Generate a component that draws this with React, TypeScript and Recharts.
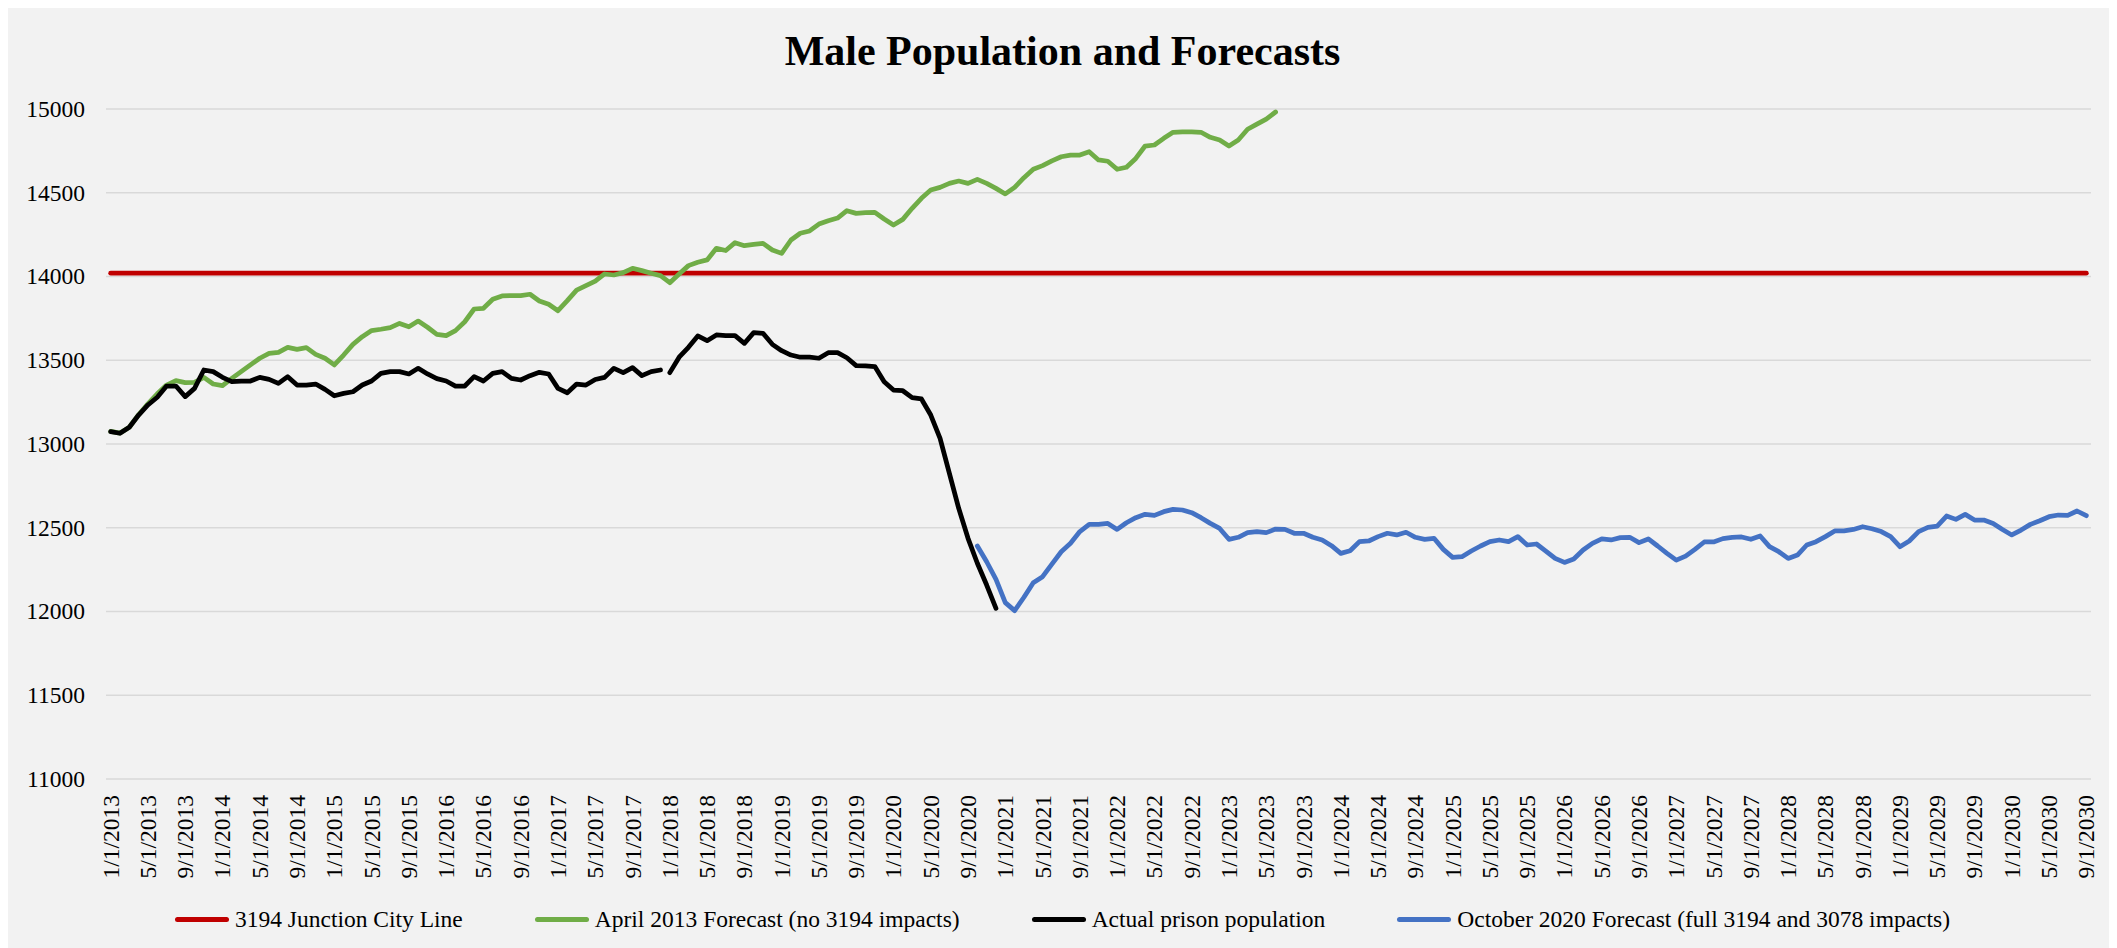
import React from 'react';
import { LineChart, Line, XAxis, YAxis, CartesianGrid } from 'recharts';

// Monthly categories 1/1/2013 .. 9/1/2030
const START_YEAR = 2013;
const MONTH_COUNT = 213;
const months: string[] = Array.from(
  { length: MONTH_COUNT },
  (_, i) => `${(i % 12) + 1}/1/${START_YEAR + Math.floor(i / 12)}`
);

const yTicks = [11000, 11500, 12000, 12500, 13000, 13500, 14000, 14500, 15000];

// 3194 Junction City Line (flat)
const junctionCityLine = 14020;

// April 2013 Forecast, 1/1/2013 .. 6/1/2023
const april2013Forecast = [
  13075, 13065, 13100, 13175, 13240, 13300, 13352, 13378, 13366, 13368,
  13398, 13358, 13348, 13392, 13432, 13472, 13512, 13541, 13547, 13577,
  13565, 13575, 13535, 13512, 13472, 13531, 13595, 13641, 13677, 13685,
  13695, 13720, 13700, 13734, 13697, 13655, 13647, 13677, 13730, 13806,
  13810, 13864, 13884, 13886, 13886, 13894, 13854, 13834, 13796, 13856,
  13919, 13945, 13972, 14015, 14009, 14023, 14049, 14035, 14019, 14005,
  13963, 14015, 14065, 14085, 14099, 14168, 14155, 14202, 14184, 14192,
  14198, 14158, 14138, 14218, 14258, 14272, 14313, 14333, 14349, 14393,
  14377, 14381, 14383, 14343, 14307, 14341, 14407, 14467, 14516, 14532,
  14556, 14570, 14556, 14580, 14556, 14526, 14493, 14532, 14590, 14640,
  14662, 14690, 14715, 14725, 14725, 14745, 14696, 14688, 14640, 14652,
  14705, 14779, 14785, 14825, 14861, 14863, 14863, 14861, 14831, 14815,
  14779, 14815, 14879, 14910, 14940, 14982,
];

// Actual prison population, 1/1/2013 .. 12/1/2017
const actualPopulation = [
  13074, 13064, 13100, 13173, 13233, 13279, 13346, 13346, 13283, 13332,
  13442, 13432, 13398, 13372, 13376, 13376, 13398, 13386, 13362, 13402,
  13352, 13352, 13358, 13326, 13288, 13302, 13312, 13352, 13376, 13422,
  13432, 13432, 13418, 13452, 13418, 13390, 13376, 13346, 13346, 13402,
  13376, 13422, 13432, 13392, 13382, 13408, 13428, 13418, 13332, 13306,
  13358, 13352, 13385, 13398, 13452, 13426, 13456, 13408, 13432, 13442,
];

// Actual prison population, 1/1/2018 .. 12/1/2020
const actualPopulation2018 = [
  13426, 13518, 13577, 13645, 13617, 13651, 13647, 13647, 13601, 13665,
  13661, 13595, 13557, 13531, 13518, 13518, 13512, 13545, 13545, 13515,
  13468, 13466, 13462, 13372, 13322, 13318, 13277, 13269, 13173, 13034,
  12825, 12616, 12437, 12288, 12158, 12019,
];

// October 2020 Forecast, 10/1/2020 .. 9/1/2030
const october2020Forecast = [
  12391, 12297, 12192, 12053, 12005, 12085, 12172, 12208, 12283, 12357,
  12407, 12477, 12520, 12520, 12526, 12490, 12530, 12560, 12580, 12574,
  12596, 12610, 12606, 12590, 12560, 12526, 12496, 12431, 12443, 12471,
  12477, 12471, 12492, 12490, 12467, 12467, 12443, 12427, 12393, 12347,
  12363, 12417, 12421, 12447, 12467, 12457, 12473, 12443, 12431, 12437,
  12371, 12323, 12327, 12361, 12391, 12417, 12427, 12417, 12447, 12397,
  12403, 12361, 12317, 12293, 12313, 12367, 12407, 12433, 12427, 12441,
  12443, 12411, 12433, 12391, 12347, 12307, 12331, 12371, 12415, 12415,
  12435, 12443, 12445, 12431, 12451, 12387, 12357, 12317, 12337, 12397,
  12417, 12447, 12481, 12481, 12490, 12506, 12494, 12477, 12447, 12387,
  12421, 12477, 12502, 12510, 12570, 12550, 12580, 12546, 12546, 12526,
  12490, 12457, 12486, 12520, 12542, 12566, 12576, 12574, 12600, 12572,
];

const ACTUAL2018_START = 60;
const OCT2020_START = 93;

const data = months.map((month, i) => ({
  month,
  junction: junctionCityLine,
  april: i < april2013Forecast.length ? april2013Forecast[i] : null,
  actual: i < actualPopulation.length ? actualPopulation[i] : null,
  actual2018:
    i >= ACTUAL2018_START && i - ACTUAL2018_START < actualPopulation2018.length
      ? actualPopulation2018[i - ACTUAL2018_START]
      : null,
  october: i >= OCT2020_START ? october2020Forecast[i - OCT2020_START] : null,
}));

const legendItems = [
  { name: '3194 Junction City Line', color: '#C00000' },
  { name: 'April 2013 Forecast (no 3194 impacts)', color: '#70AD47' },
  { name: 'Actual prison population', color: '#000000' },
  { name: 'October 2020 Forecast (full 3194 and 3078 impacts)', color: '#4472C4' },
];

const FONT = '"Liberation Serif", "Times New Roman", serif';
const FONT_SIZE = 23.5;
const LINE_W = 4.75;

const DateTick = ({ x, y, payload }: any) => (
  <text
    x={x}
    y={y}
    transform={`rotate(-90, ${x}, ${y})`}
    textAnchor="end"
    dy="0.34em"
    fontSize={FONT_SIZE}
    fontFamily={FONT}
    fill="#000"
  >
    {payload.value}
  </text>
);

const ValueTick = ({ x, y, payload }: any) => (
  <text
    x={x}
    y={y}
    textAnchor="end"
    dy="0.34em"
    fontSize={FONT_SIZE}
    fontFamily={FONT}
    fill="#000"
  >
    {payload.value}
  </text>
);

const App: React.FC = () => {
  return (
    <div
      style={{
        position: 'relative',
        width: 2109,
        height: 940,
        background: '#F2F2F2',
        fontFamily: FONT,
        color: '#000',
      }}
    >
      <style>{'body{overflow:hidden}'}</style>
      <div
        style={{
          position: 'absolute',
          top: 22,
          left: 0,
          width: '100%',
          textAlign: 'center',
          fontSize: 42,
          fontWeight: 'bold',
          lineHeight: '42px',
        }}
      >
        Male Population and Forecasts
      </div>

      <LineChart
        width={2109}
        height={940}
        data={data}
        margin={{ top: 101, right: 26, bottom: 0, left: 0 }}
        style={{ position: 'absolute', top: 0, left: 0 }}
      >
        <CartesianGrid vertical={false} stroke="#D9D9D9" strokeWidth={1.5} />
        <XAxis
          dataKey="month"
          interval={3}
          tick={<DateTick />}
          tickLine={false}
          axisLine={false}
          tickSize={0}
          tickMargin={16}
          height={169}
          padding={{ left: 4.66, right: 4.66 }}
        />
        <YAxis
          domain={[11000, 15000]}
          ticks={yTicks}
          interval={0}
          width={98}
          axisLine={false}
          tickLine={false}
          tickSize={0}
          tickMargin={21}
          tick={<ValueTick />}
        />
        <Line
          dataKey="junction"
          stroke="#C00000"
          strokeWidth={LINE_W}
          strokeLinecap="round"
          dot={false}
          isAnimationActive={false}
        />
        <Line
          dataKey="april"
          stroke="#70AD47"
          strokeWidth={LINE_W}
          strokeLinecap="round"
          strokeLinejoin="round"
          dot={false}
          isAnimationActive={false}
        />
        <Line
          dataKey="october"
          stroke="#4472C4"
          strokeWidth={LINE_W}
          strokeLinecap="round"
          strokeLinejoin="round"
          dot={false}
          isAnimationActive={false}
        />
        <Line
          dataKey="actual"
          stroke="#000000"
          strokeWidth={LINE_W}
          strokeLinecap="round"
          strokeLinejoin="round"
          dot={false}
          isAnimationActive={false}
        />
        <Line
          dataKey="actual2018"
          stroke="#000000"
          strokeWidth={LINE_W}
          strokeLinecap="round"
          strokeLinejoin="round"
          dot={false}
          isAnimationActive={false}
        />
      </LineChart>

      <div
        style={{
          position: 'absolute',
          top: 897,
          left: 0,
          width: '100%',
          display: 'flex',
          justifyContent: 'center',
          alignItems: 'center',
          gap: 72,
          fontSize: FONT_SIZE,
          lineHeight: '28px',
          whiteSpace: 'nowrap',
        }}
      >
        {legendItems.map((item) => (
          <div key={item.name} style={{ display: 'flex', alignItems: 'center' }}>
            <span
              style={{
                display: 'inline-block',
                width: 54,
                height: 5,
                borderRadius: 3,
                background: item.color,
                marginRight: 6,
              }}
            />
            <span>{item.name}</span>
          </div>
        ))}
      </div>
    </div>
  );
};

export default App;
